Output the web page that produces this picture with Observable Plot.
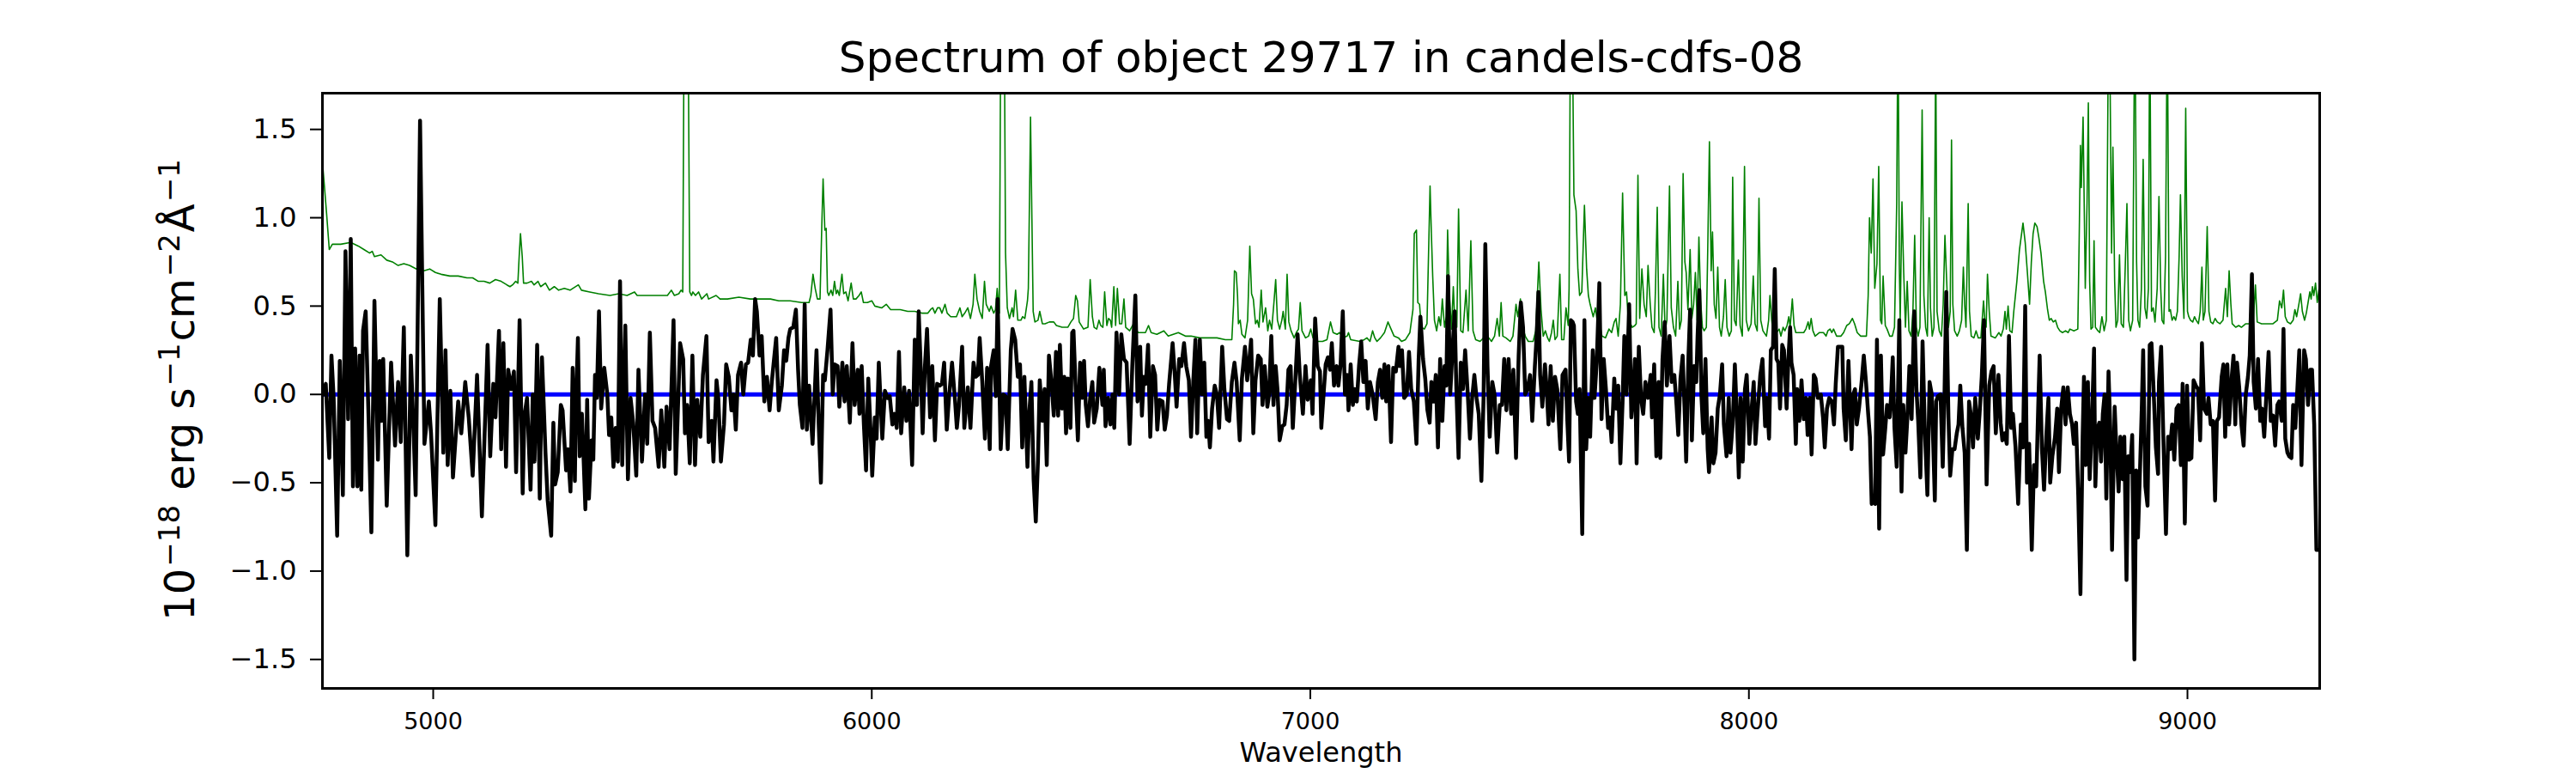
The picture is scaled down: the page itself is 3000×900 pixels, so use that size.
<!DOCTYPE html>
<html>
<head>
<meta charset="utf-8">
<script src="https://cdn.jsdelivr.net/npm/d3@7"></script>
<script src="https://cdn.jsdelivr.net/npm/@observablehq/plot@0.6"></script>
<style>
html, body { margin: 0; padding: 0; background: #ffffff; }
</style>
</head>
<body>
<div id="chart"></div>
<script>
const titleText = "Spectrum of object 29717 in candels-cdfs-08";
const xLabelText = "Wavelength";
const xTicks = [5000, 6000, 7000, 8000, 9000];
const yTicks = [-1.5, -1.0, -0.5, 0.0, 0.5, 1.0, 1.5];
const xDomain = [4747.4, 9301.5];
const yDomain = [-1.664, 1.705];
const zeroLevel = [0];

// black: object spectrum [wavelength, flux]
const spectrumPoints = [
[4750,0.00],[4755,0.06],[4763,-0.36],[4768,0.22],[4773,-0.02],[4781,-0.80],[4787,0.19],[4794,-0.57],[4800,0.81],[4806,-0.14],
[4812,0.88],[4817,-0.52],[4822,0.26],[4827,-0.52],[4832,0.22],[4836,-0.54],[4840,0.36],[4846,0.47],[4853,-0.17],[4859,-0.78],
[4866,0.53],[4874,-0.37],[4878,0.19],[4882,-0.15],[4886,0.20],[4894,-0.63],[4904,0.18],[4913,-0.29],[4920,0.07],[4926,-0.27],
[4933,0.38],[4941,-0.91],[4949,0.22],[4955,-0.19],[4960,-0.57],[4970,1.55],[4980,-0.28],[4990,-0.04],[4995,-0.22],[5005,-0.74],
[5015,0.54],[5023,-0.33],[5028,0.25],[5033,-0.40],[5039,0.02],[5045,-0.47],[5051,-0.25],[5057,-0.04],[5064,-0.22],[5073,0.07],
[5081,-0.13],[5090,-0.46],[5100,0.11],[5111,-0.69],[5124,0.28],[5130,-0.35],[5137,0.06],[5142,-0.13],[5150,0.36],[5155,-0.31],
[5160,0.29],[5166,-0.41],[5171,0.14],[5178,0.03],[5184,0.13],[5189,-0.44],[5197,0.42],[5204,-0.56],[5208,-0.12],[5214,-0.02],
[5222,-0.54],[5227,0.00],[5231,-0.38],[5237,0.28],[5243,-0.59],[5248,0.21],[5256,-0.33],[5261,-0.60],[5269,-0.80],[5274,-0.16],
[5278,-0.51],[5284,-0.44],[5291,-0.06],[5295,-0.09],[5303,-0.43],[5307,-0.31],[5313,-0.55],[5318,0.15],[5323,-0.49],
[5325,-0.11],[5330,0.32],[5334,-0.35],[5339,-0.11],[5343,-0.37],[5347,-0.65],[5351,-0.03],[5355,-0.59],[5361,-0.26],[5365,-0.37],
[5369,0.11],[5373,-0.02],[5378,0.47],[5383,-0.08],[5390,0.15],[5397,0.00],[5401,-0.23],[5406,-0.13],[5411,-0.41],[5416,-0.19],
[5421,-0.38],[5426,0.64],[5431,-0.40],[5438,0.39],[5444,-0.48],[5450,-0.02],[5456,-0.16],[5463,-0.46],[5468,0.14],[5476,-0.38],
[5483,0.00],[5488,-0.28],[5494,0.35],[5500,-0.15],[5506,-0.19],[5514,-0.41],[5520,-0.09],[5527,-0.41],[5532,-0.07],[5539,-0.31],
[5548,0.42],[5553,-0.45],[5563,0.29],[5570,0.20],[5574,-0.22],[5579,-0.06],[5585,-0.39],[5591,0.22],[5597,-0.40],[5602,-0.03],
[5609,-0.24],[5615,0.11],[5623,0.33],[5628,-0.27],[5635,-0.15],[5639,-0.38],[5646,0.08],[5650,-0.02],[5656,-0.38],[5663,-0.17],
[5668,0.17],[5674,0.10],[5680,-0.09],[5685,0.00],[5690,-0.20],[5695,0.11],[5702,0.18],[5707,0.00],[5713,0.17],[5718,0.18],
[5724,0.31],[5729,0.22],[5734,0.54],[5738,0.47],[5744,0.22],[5749,0.33],[5755,-0.04],[5761,0.10],[5767,-0.09],[5772,0.07],
[5776,0.17],[5782,0.32],[5788,-0.09],[5795,0.05],[5800,0.25],[5805,0.19],[5810,0.32],[5814,0.37],[5821,0.38],[5827,0.48],
[5832,0.14],[5836,-0.06],[5842,-0.19],[5847,0.51],[5852,-0.20],[5857,0.05],[5865,-0.28],[5874,0.25],[5879,-0.17],[5884,-0.50],
[5889,0.11],
[5893,0.08],[5899,0.25],[5906,0.48],[5911,0.00],[5915,0.17],[5922,0.16],[5926,-0.07],[5933,0.18],[5938,-0.04],[5943,0.16],
[5950,-0.16],[5956,0.29],[5961,-0.06],[5968,0.14],[5972,-0.11],[5977,0.16],[5982,-0.17],[5987,-0.43],[5992,0.09],[5997,-0.19],
[6001,-0.46],[6007,-0.13],[6011,-0.25],[6016,0.18],[6024,-0.25],[6030,0.02],[6036,-0.02],[6041,-0.01],[6047,-0.17],[6052,-0.11],
[6057,-0.19],[6062,0.24],[6067,-0.22],[6074,0.04],[6079,-0.15],[6085,0.02],[6092,-0.40],[6098,0.31],[6103,-0.06],[6107,0.47],
[6111,0.20],[6116,-0.22],[6121,0.15],[6126,0.37],[6133,-0.13],[6138,0.16],[6144,-0.26],[6149,0.06],[6155,0.05],[6160,0.06],
[6165,0.18],[6171,-0.20],[6176,-0.02],[6183,0.18],[6190,-0.04],[6194,-0.19],[6199,-0.06],[6206,0.27],[6211,-0.19],[6219,0.04],
[6225,-0.19],[6232,0.18],[6237,0.10],[6242,0.11],[6246,0.32],[6252,0.07],[6258,-0.25],[6263,0.15],[6269,-0.31],[6272,0.16],
[6278,0.25],[6283,-0.01],[6287,0.54],[6294,-0.31],[6300,0.00],[6305,-0.01],[6310,-0.31],[6317,0.25],[6321,0.37],[6327,0.31],
[6333,0.10],[6338,0.17],[6343,-0.30],[6348,0.10],[6355,-0.41],[6359,-0.11],[6364,0.07],[6369,-0.48],[6374,-0.72],[6379,-0.37],
[6383,0.08],[6389,-0.15],[6394,0.03],[6399,-0.40],[6404,0.22],[6410,0.06],[6415,-0.12],[6420,0.24],[6425,-0.12],[6429,0.28],
[6434,-0.08],[6439,0.10],[6443,-0.22],[6447,0.09],[6453,-0.19],[6457,0.35],
[6460,0.36],[6465,0.03],[6470,-0.26],[6475,0.18],[6480,-0.02],[6484,0.19],[6488,-0.06],[6493,-0.18],[6498,-0.02],[6503,0.07],
[6507,-0.16],[6513,-0.08],[6519,0.15],[6526,-0.06],[6529,0.14],[6533,-0.18],[6539,-0.02],[6544,-0.17],[6549,0.00],[6553,-0.19],
[6558,0.35],[6564,0.00],[6569,0.34],[6575,0.20],[6581,0.18],[6588,-0.28],[6594,0.16],[6601,0.56],[6606,-0.04],[6612,0.27],
[6616,-0.12],[6620,0.10],[6625,0.06],[6630,0.28],[6635,-0.24],[6641,0.16],[6646,0.11],[6651,-0.20],[6656,-0.03],[6663,-0.04],
[6668,-0.20],[6673,-0.12],[6678,0.06],[6686,0.29],[6691,0.11],[6695,-0.07],[6701,0.20],[6706,0.16],[6712,0.29],[6717,0.16],
[6723,0.08],[6728,-0.24],[6733,0.07],[6738,0.31],[6742,-0.22],[6748,0.31],[6753,0.00],[6758,0.18],[6763,-0.24],[6767,-0.15],
[6771,-0.30],[6776,-0.08],[6782,0.05],[6787,0.00],[6792,-0.19],[6799,0.27],[6804,0.03],[6810,-0.14],[6815,-0.15],[6821,0.07],
[6827,0.18],[6832,0.07],[6839,-0.26],[6844,0.09],[6851,0.27],[6856,0.08],[6861,0.20],[6865,0.31],[6870,-0.22],[6875,0.08],
[6881,0.22],[6887,0.20],[6891,-0.06],[6896,0.16],[6902,-0.07],[6906,0.00],[6911,0.33],[6916,-0.06],[6921,0.16],[6925,0.03],
[6930,-0.26],[6936,-0.18],[6941,-0.17],[6946,-0.06],[6950,0.14],[6955,0.16],[6960,-0.19],[6966,0.09],[6971,0.34],[6976,0.11],
[6983,-0.11],[6989,0.16],[6994,-0.03],[7001,0.08],[7005,-0.11],[7011,0.43],[7017,0.16],[7022,0.13],[7025,-0.19],
[7031,0.03],[7035,0.17],[7040,0.21],[7045,0.14],[7049,0.29],[7054,0.05],[7060,0.16],[7064,0.05],[7069,0.17],[7074,0.47],
[7079,0.00],[7084,0.11],[7087,-0.09],[7092,0.17],[7097,-0.06],[7101,0.03],[7106,-0.04],[7111,0.16],[7116,0.30],[7121,0.07],
[7126,0.19],[7131,-0.08],[7136,0.07],[7142,0.00],[7149,-0.14],[7154,0.07],[7159,0.14],[7164,-0.02],[7169,0.17],[7173,-0.04],
[7178,0.16],[7184,-0.27],[7189,0.15],[7195,0.13],[7201,0.27],[7204,0.16],[7209,0.25],[7214,-0.02],[7220,0.00],[7225,0.24],
[7230,0.03],[7236,-0.04],[7242,-0.28],[7247,0.20],[7251,0.44],[7257,0.20],[7262,0.09],[7267,-0.09],[7272,-0.16],[7276,0.07],
[7281,-0.04],[7286,0.11],[7291,-0.30],[7296,0.20],[7301,-0.15],[7306,0.16],[7310,0.05],[7314,0.67],[7319,0.00],[7325,0.29],
[7329,0.47],[7333,0.03],[7338,-0.36],[7343,0.18],[7348,0.03],[7353,0.25],[7359,0.00],[7364,-0.25],[7369,-0.02],[7374,0.11],
[7379,-0.02],[7384,-0.11],[7390,-0.49],[7395,-0.02],[7399,0.85],[7404,0.16],[7409,-0.24],[7415,0.07],[7420,0.00],[7426,-0.33],
[7432,-0.06],[7437,-0.06],[7442,0.20],[7447,-0.09],[7452,0.20],[7458,-0.11],[7463,0.14],[7469,-0.36],[7475,0.22],[7480,0.52],
[7485,0.38],[7490,0.00],[7495,0.03],[7501,0.11],[7506,-0.15],[7512,0.16],[7516,0.33],[7520,0.58],[7524,0.11],[7529,-0.07],
[7535,0.17],[7539,0.03],[7543,-0.17],[7548,0.16],[7553,-0.15],[7558,0.10],[7563,0.03],[7570,-0.31],[7575,0.11],[7582,0.14],
[7586,-0.15],[7590,-0.38],[7594,0.42],
[7598,0.41],[7601,0.39],[7606,-0.04],[7610,-0.11],[7614,0.03],[7620,-0.79],[7625,0.42],[7629,-0.31],[7634,-0.02],[7638,-0.24],
[7644,0.25],[7648,-0.02],[7653,0.18],[7659,0.63],[7664,-0.14],[7669,0.20],[7674,0.03],[7679,-0.19],[7683,-0.13],[7687,-0.27],
[7693,0.09],[7697,-0.08],[7702,0.05],[7707,-0.39],[7712,-0.04],[7716,0.33],[7721,0.00],[7727,0.51],[7732,-0.13],[7736,0.00],
[7740,0.20],[7744,-0.39],[7749,0.27],[7754,-0.02],[7759,-0.11],[7764,0.07],[7770,-0.02],[7776,0.11],[7779,-0.13],[7784,0.17],
[7789,-0.35],[7794,0.07],[7798,-0.36],[7803,0.20],[7808,0.41],[7813,0.05],[7819,0.33],[7824,0.07],[7830,0.11],[7835,-0.06],
[7839,-0.23],[7844,0.09],[7849,0.22],[7854,-0.13],[7857,-0.38],[7862,0.20],[7866,0.48],[7870,-0.26],[7875,0.16],[7880,0.07],
[7883,0.33],[7887,0.59],[7892,-0.02],[7896,-0.22],[7901,0.20],[7906,-0.31],[7909,-0.44],[7915,-0.13],[7919,-0.39],[7924,-0.33],
[7929,-0.08],[7934,0.00],[7939,0.17],[7943,-0.17],[7949,-0.35],[7954,-0.02],[7958,-0.33],[7963,-0.17],[7968,0.17],[7973,-0.15],
[7977,-0.47],[7981,-0.02],[7986,-0.38],[7991,0.03],[7995,0.11],[8001,-0.28],[8006,-0.09],[8011,0.07],[8015,-0.28],[8020,-0.09],
[8026,0.11],[8031,0.20],[8037,-0.18],[8041,-0.02],[8046,-0.25],[8050,0.25],[8055,0.27],[8059,0.71],[8063,0.20],[8067,0.18],
[8071,-0.08],[8076,0.28],[8080,0.25],[8086,-0.08],[8090,0.20],[8094,0.38],[8097,0.18],[8102,0.11],[8107,-0.28],[8110,0.03],
[8115,-0.15],[8120,0.08],[8125,-0.14],[8130,-0.02],[8134,-0.23],[8139,-0.02],[8143,-0.34],[8148,0.11],[8152,0.09],[8157,-0.02],
[8162,-0.02],
[8164,0.00],[8169,-0.13],[8173,-0.30],[8178,-0.08],[8183,-0.02],[8189,-0.04],[8194,-0.17],[8198,0.06],[8203,0.27],[8208,0.27],
[8213,0.27],[8216,-0.08],[8221,-0.26],[8227,0.19],[8230,-0.02],[8234,-0.31],[8238,0.00],[8242,0.03],[8246,-0.17],[8251,-0.08],
[8257,0.07],[8262,0.22],[8267,0.07],[8272,-0.11],[8276,-0.24],[8280,-0.62],[8285,-0.59],[8288,-0.62],[8292,0.31],[8297,-0.76],
[8301,0.22],[8306,-0.34],[8311,-0.19],[8315,-0.06],[8321,-0.13],[8324,-0.02],[8328,0.21],[8332,-0.19],[8337,-0.41],[8343,0.42],
[8348,-0.55],[8352,-0.06],[8357,-0.33],[8361,-0.15],[8366,0.16],[8371,-0.14],[8377,0.47],[8382,0.03],[8386,-0.15],[8391,-0.47],
[8396,0.30],[8401,-0.19],[8407,-0.57],[8412,0.07],[8417,0.00],[8424,-0.60],[8427,-0.04],[8431,-0.01],[8437,0.00],[8442,-0.41],
[8446,0.00],[8450,0.58],[8455,-0.13],[8459,-0.46],[8464,-0.31],[8469,-0.31],[8474,-0.22],[8478,-0.17],[8482,0.05],[8487,-0.19],
[8492,-0.33],[8497,-0.88],[8502,-0.04],[8507,-0.13],[8511,-0.30],[8516,-0.02],[8522,-0.25],[8526,-0.11],[8531,0.10],[8536,0.42],
[8542,-0.51],[8548,0.05],[8553,0.13],[8558,0.16],[8563,-0.22],[8569,0.11],[8574,-0.16],[8578,-0.26],[8583,-0.22],[8588,-0.28],
[8593,0.33],[8598,-0.19],[8602,-0.11],[8608,-0.30],[8614,-0.62],[8620,-0.17],[8625,-0.30],[8630,0.50],[8634,-0.50],[8639,-0.28],
[8645,-0.88],[8650,-0.40],[8655,-0.52],[8660,-0.04],[8663,0.22],[8668,-0.30],[8673,-0.54],[8678,-0.24],[8683,-0.02],[8687,-0.50],
[8692,-0.35],[8698,-0.24],[8703,-0.08],[8707,-0.44],[8712,-0.08],[8717,0.04],[8722,-0.17],[8727,0.04],
[8732,-0.11],[8737,-0.17],[8741,-0.28],[8746,-0.16],[8751,-0.57],[8756,-1.13],[8761,-0.24],[8764,0.10],[8768,-0.40],[8773,0.07],
[8777,-0.48],[8782,-0.17],[8787,0.26],[8790,-0.52],[8794,-0.20],[8799,-0.16],[8803,-0.38],[8807,-0.11],[8811,0.00],[8815,-0.59],
[8820,0.13],[8824,-0.19],[8828,-0.88],[8834,-0.07],[8838,-0.31],[8843,-0.55],[8847,-0.24],[8852,-0.48],[8856,-0.24],[8861,-1.05],
[8865,-0.35],[8869,-0.44],[8874,-0.23],[8879,-1.50],[8883,-0.43],[8887,-0.81],[8892,-0.41],[8896,-0.06],[8899,0.25],[8904,-0.52],
[8909,-0.63],[8914,0.28],[8918,0.29],[8922,0.07],[8928,-0.30],[8933,-0.45],[8935,0.07],[8940,0.27],[8945,-0.24],[8951,-0.79],
[8956,-0.24],[8960,-0.31],[8965,-0.17],[8970,-0.37],[8975,-0.08],[8980,-0.06],[8985,-0.40],[8989,0.06],[8994,-0.73],[8999,0.05],
[9004,-0.37],[9009,-0.36],[9014,0.08],[9019,0.05],[9024,0.03],[9029,-0.26],[9033,0.29],[9038,-0.08],[9044,-0.11],[9048,-0.02],
[9053,-0.17],[9058,-0.15],[9063,-0.60],[9067,-0.15],[9072,-0.13],[9078,0.10],[9082,0.17],[9086,-0.24],[9091,0.17],[9095,-0.17],
[9101,0.10],[9105,0.22],[9109,-0.17],[9113,0.18],[9118,0.04],[9123,-0.17],[9128,-0.29],[9133,0.00],[9138,0.10],[9142,0.22],
[9147,0.68],[9151,0.07],[9156,-0.08],[9161,0.20],[9166,-0.15],[9170,-0.08],[9175,-0.24],[9181,0.05],[9185,0.24],[9190,-0.15],
[9195,-0.12],[9200,-0.29],[9205,-0.06],[9209,-0.04],[9215,-0.15],[9219,0.37],[9223,-0.25],[9228,-0.33],[9232,-0.35],[9237,-0.36],
[9241,-0.06],[9246,-0.19],[9250,0.00],[9255,0.25],[9260,-0.40],[9266,0.25],[9270,0.20],[9275,-0.06],[9280,0.14],[9284,0.14],
[9289,-0.17],[9294,-0.88],[9300,-0.88]
];

// green: sky / noise spectrum [wavelength, flux]
const skyPoints = [
[4748,1.30],[4757,1.02],[4763,0.82],[4770,0.85],[4789,0.85],[4812,0.86],[4829,0.84],[4842,0.82],[4855,0.80],[4861,0.81],
[4866,0.78],[4881,0.79],[4894,0.76],[4907,0.75],[4920,0.73],[4933,0.74],[4946,0.73],[4962,0.71],[4979,0.70],[4992,0.71],
[5005,0.69],[5018,0.68],[5038,0.67],[5057,0.67],[5077,0.66],[5090,0.66],[5103,0.64],[5116,0.64],[5129,0.63],[5142,0.65],
[5155,0.64],[5168,0.62],[5175,0.61],[5181,0.62],[5188,0.64],[5193,0.63],[5196,0.78],[5199,0.91],[5203,0.78],[5206,0.63],
[5214,0.63],[5224,0.64],[5230,0.62],[5239,0.64],[5245,0.61],[5256,0.63],[5265,0.59],[5276,0.61],[5286,0.59],[5299,0.60],
[5312,0.59],[5331,0.62],[5338,0.59],[5357,0.58],[5377,0.57],[5403,0.56],[5423,0.57],[5442,0.56],[5459,0.58],[5465,0.56],
[5488,0.56],[5514,0.56],[5534,0.56],[5543,0.59],[5550,0.56],[5560,0.57],[5565,0.59],[5569,0.58],[5573,2.60],[5580,2.60],
[5585,0.58],[5589,0.56],[5592,0.58],[5598,0.56],[5605,0.58],[5612,0.54],[5624,0.57],[5628,0.54],[5645,0.56],[5654,0.54],
[5671,0.54],[5697,0.55],[5723,0.54],[5749,0.54],[5769,0.54],[5788,0.53],[5814,0.53],[5840,0.52],[5857,0.52],[5861,0.56],
[5866,0.68],[5871,0.60],[5876,0.54],[5882,0.54],[5886,0.95],[5889,1.22],[5893,0.93],[5896,0.94],[5899,0.58],[5902,0.56],
[5907,0.59],[5911,0.56],[5915,0.64],[5919,0.57],[5922,0.59],[5926,0.56],[5932,0.68],[5936,0.57],[5941,0.58],[5946,0.53],
[5953,0.63],[5958,0.54],[5964,0.54],[5971,0.56],[5976,0.58],[5981,0.52],[5990,0.52],[6000,0.53],[6007,0.50],[6023,0.49],
[6033,0.51],[6043,0.48],[6065,0.48],[6082,0.47],[6098,0.47],[6114,0.46],[6128,0.46],[6134,0.48],[6139,0.49],[6144,0.46],
[6150,0.49],[6155,0.49],[6160,0.46],[6167,0.51],[6172,0.46],[6180,0.44],[6193,0.44],[6201,0.49],[6206,0.44],[6212,0.46],
[6219,0.49],[6225,0.43],[6231,0.51],[6235,0.68],[6240,0.54],[6246,0.47],[6252,0.43],[6257,0.64],[6261,0.51],[6268,0.47],
[6272,0.50],[6278,0.46],[6282,0.48],[6286,0.60],[6291,0.46],[6295,2.60],[6302,2.20],[6305,0.80],[6309,0.49],[6314,0.43],
[6320,0.49],[6323,0.44],[6328,0.59],[6333,0.42],[6340,0.42],[6344,0.44],[6349,0.43],[6355,0.53],[6357,0.60],[6362,1.57],
[6368,0.47],[6372,0.41],[6379,0.42],[6383,0.47],[6389,0.40],[6395,0.40],[6405,0.41],[6415,0.41],[6421,0.39],[6434,0.38],
[6447,0.38],[6454,0.41],[6460,0.43],[6465,0.56],[6469,0.53],[6473,0.41],[6483,0.37],[6493,0.38],[6498,0.65],[6503,0.44],
[6507,0.38],[6513,0.37],[6518,0.42],[6522,0.39],[6527,0.38],[6531,0.58],[6536,0.39],[6540,0.43],[6544,0.42],[6547,0.38],
[6552,0.61],[6556,0.39],[6560,0.60],[6565,0.40],[6570,0.40],[6575,0.54],[6579,0.38],[6588,0.36],[6597,0.40],[6607,0.35],
[6624,0.35],[6631,0.39],[6637,0.35],[6650,0.34],[6666,0.36],[6676,0.33],[6699,0.35],[6715,0.33],[6728,0.33],[6748,0.32],
[6767,0.32],[6787,0.32],[6806,0.31],[6821,0.31],[6825,0.51],[6827,0.70],[6831,0.69],[6834,0.56],[6836,0.40],[6840,0.42],
[6844,0.34],[6851,0.32],[6857,0.42],[6862,0.84],[6866,0.57],[6870,0.54],[6875,0.40],[6879,0.42],[6883,0.38],[6888,0.59],
[6892,0.41],[6898,0.49],[6903,0.36],[6907,0.42],[6912,0.37],[6917,0.52],[6921,0.65],[6925,0.42],[6930,0.37],[6935,0.42],
[6938,0.47],[6943,0.37],[6947,0.68],[6951,0.41],[6956,0.36],[6963,0.32],[6968,0.35],[6973,0.37],[6977,0.52],[6981,0.36],
[6989,0.32],[6996,0.33],[7001,0.37],[7006,0.32],[7015,0.30],[7028,0.30],[7038,0.31],[7046,0.41],[7052,0.35],[7061,0.34],
[7067,0.35],[7074,0.32],[7084,0.33],[7087,0.35],[7092,0.31],[7113,0.30],[7123,0.31],[7129,0.32],[7136,0.30],[7142,0.36],
[7147,0.32],[7152,0.30],[7160,0.32],[7169,0.35],[7177,0.41],[7184,0.37],[7191,0.33],[7201,0.32],[7208,0.30],[7217,0.31],
[7227,0.35],[7234,0.48],[7237,0.91],[7242,0.93],[7245,0.52],[7249,0.51],[7253,0.38],[7260,0.37],[7266,0.40],[7273,1.18],
[7276,0.91],[7279,0.67],[7283,0.42],[7288,0.36],[7293,0.44],[7297,0.39],[7301,0.54],[7306,0.38],[7310,0.44],[7313,0.93],
[7317,0.56],[7322,0.37],[7326,0.61],[7330,0.38],[7334,0.38],[7338,1.05],[7343,0.36],[7348,0.35],[7355,0.59],[7360,0.36],
[7366,0.87],[7371,0.36],[7377,0.31],[7387,0.30],[7399,0.33],[7407,0.32],[7413,0.30],[7420,0.33],[7426,0.43],[7431,0.33],
[7435,0.52],[7439,0.33],[7446,0.32],[7456,0.30],[7462,0.33],[7469,0.51],[7473,0.44],[7479,0.54],[7484,0.38],[7490,0.33],
[7497,0.30],[7508,0.30],[7514,0.36],[7521,0.75],[7526,0.48],[7531,0.33],[7536,0.36],[7541,0.32],[7545,0.30],[7550,0.35],
[7554,0.42],[7558,0.31],[7563,0.33],[7569,0.68],[7573,0.31],[7578,0.31],[7583,0.49],[7588,0.39],[7590,0.60],[7594,2.60],
[7597,2.20],[7601,1.13],[7606,1.04],[7610,0.71],[7614,0.56],[7619,0.58],[7625,1.07],[7630,0.71],[7634,0.56],[7638,0.51],
[7645,0.44],[7650,0.49],[7655,0.40],[7660,0.40],[7665,0.33],[7673,0.32],[7681,0.37],[7687,0.35],[7693,0.41],[7697,0.43],
[7702,0.33],[7707,0.51],[7712,1.14],[7717,0.56],[7721,0.58],[7725,0.42],[7730,0.40],[7734,0.38],[7740,0.39],[7743,0.40],
[7747,1.24],[7751,0.43],[7756,0.71],[7761,0.51],[7766,0.44],[7770,0.73],[7775,0.51],[7779,0.38],[7784,0.35],[7787,0.60],
[7791,1.06],[7795,0.38],[7800,0.33],[7805,0.68],[7809,0.36],[7813,0.42],[7819,1.18],[7823,0.49],[7828,0.38],[7833,0.33],
[7838,0.64],[7842,0.37],[7846,0.42],[7850,1.25],[7854,0.75],[7857,0.69],[7861,0.48],[7866,0.82],[7870,0.43],[7874,0.51],
[7878,0.69],[7882,0.42],[7886,0.89],[7890,0.53],[7894,0.38],[7898,0.36],[7903,0.38],[7906,0.80],[7910,1.43],[7914,0.70],
[7917,0.92],[7921,0.51],[7925,0.43],[7929,0.72],[7933,0.38],[7937,0.33],[7942,0.44],[7946,0.65],[7950,0.38],[7955,0.33],
[7960,0.36],[7963,1.23],[7967,0.42],[7971,0.39],[7976,0.76],[7980,0.39],[7985,0.33],[7990,1.29],[7994,0.42],[7999,0.36],
[8005,0.40],[8010,0.67],[8014,0.40],[8019,0.36],[8023,1.11],[8027,0.42],[8032,0.36],[8040,0.33],[8045,0.42],[8048,0.56],
[8052,0.42],[8056,0.33],[8063,0.35],[8069,0.37],[8073,0.33],[8078,0.38],[8082,0.36],[8087,0.39],[8091,0.44],[8094,0.38],
[8099,0.54],[8103,0.39],[8107,0.35],[8115,0.35],[8125,0.35],[8130,0.37],[8135,0.41],[8138,0.37],[8142,0.43],[8146,0.36],
[8151,0.33],[8161,0.35],[8170,0.35],[8176,0.33],[8180,0.36],[8185,0.37],[8189,0.35],[8193,0.37],[8200,0.33],[8210,0.33],
[8216,0.35],[8223,0.39],[8229,0.40],[8236,0.43],[8241,0.40],[8247,0.35],[8255,0.33],[8268,0.33],[8272,0.56],[8275,1.00],
[8279,0.80],[8283,1.22],[8287,0.60],[8292,0.74],[8296,1.29],[8300,0.42],[8303,0.40],[8306,0.67],[8311,0.39],[8315,0.37],
[8321,0.33],[8327,0.33],[8332,0.38],[8337,1.08],[8340,2.20],[8343,0.73],[8345,0.42],[8349,1.09],[8353,0.69],[8357,0.38],
[8361,0.64],[8365,0.36],[8370,0.33],[8374,0.47],[8378,0.90],[8382,0.38],[8386,0.33],[8390,0.38],[8395,1.61],[8399,0.56],
[8403,0.38],[8407,0.33],[8411,1.00],[8414,0.49],[8418,0.33],[8422,0.38],[8426,2.00],[8429,0.47],[8434,0.36],[8439,0.33],
[8443,0.51],[8447,0.90],[8451,0.64],[8455,0.38],[8459,0.47],[8462,1.44],[8465,0.51],[8469,0.36],[8475,0.33],[8480,0.36],
[8485,0.42],[8489,0.72],[8492,0.51],[8495,0.38],[8500,1.08],[8503,0.47],[8507,0.33],[8513,0.32],[8518,0.36],[8523,0.32],
[8529,0.32],[8535,0.53],[8538,0.42],[8541,0.38],[8544,0.68],[8548,0.47],[8552,0.33],[8562,0.32],[8570,0.35],[8575,0.33],
[8580,0.37],[8584,0.47],[8587,0.37],[8591,0.50],[8595,0.36],[8600,0.35],[8604,0.47],[8611,0.64],[8617,0.82],[8625,0.97],
[8630,0.86],[8635,0.69],[8640,0.51],[8644,0.75],[8648,0.91],[8652,0.97],[8657,0.95],[8661,0.89],[8666,0.80],[8672,0.64],
[8676,0.58],[8681,0.48],[8685,0.42],[8689,0.43],[8694,0.41],[8699,0.42],[8704,0.38],[8709,0.36],[8715,0.35],[8722,0.36],
[8728,0.35],[8732,0.37],[8741,0.36],[8750,0.37],[8753,0.86],[8756,1.41],[8758,1.17],[8762,1.57],[8767,0.60],[8771,1.08],
[8774,1.65],[8777,0.64],[8780,0.37],[8784,0.38],[8787,0.87],[8790,0.38],[8796,0.36],[8800,0.35],[8805,0.44],[8810,0.36],
[8815,0.42],[8821,2.50],[8827,0.80],[8830,1.40],[8834,0.64],[8837,0.38],[8841,0.42],[8845,0.79],[8849,0.40],[8854,0.38],
[8858,0.71],[8862,1.08],[8866,0.42],[8870,0.36],[8875,0.42],[8880,2.30],[8884,0.75],[8887,0.42],[8891,0.38],[8895,0.60],
[8899,1.33],[8903,0.49],[8907,0.43],[8911,0.60],[8914,2.20],[8918,0.47],[8922,0.49],[8926,0.41],[8931,0.60],[8935,1.12],
[8939,0.60],[8942,0.42],[8946,0.40],[8950,0.78],[8954,2.20],[8958,0.47],[8961,0.48],[8965,0.42],[8969,0.44],[8973,0.42],
[8977,0.47],[8981,0.78],[8984,1.13],[8988,0.67],[8992,0.43],[8996,1.62],[9000,0.47],[9003,0.44],[9007,0.42],[9012,0.41],
[9016,0.44],[9020,0.42],[9025,0.40],[9029,0.47],[9033,0.72],[9036,0.42],[9040,0.47],[9045,0.95],[9049,0.47],[9053,0.41],
[9058,0.40],[9063,0.43],[9068,0.41],[9074,0.40],[9081,0.42],[9087,0.60],[9091,0.44],[9095,0.70],[9099,0.51],[9102,0.40],
[9110,0.38],[9117,0.39],[9123,0.38],[9133,0.40],[9143,0.40],[9150,0.41],[9155,0.62],[9159,0.41],[9169,0.40],[9182,0.40],
[9195,0.40],[9205,0.42],[9210,0.53],[9215,0.49],[9219,0.59],[9223,0.44],[9228,0.41],[9235,0.40],[9241,0.42],[9245,0.48],
[9249,0.44],[9254,0.51],[9258,0.57],[9262,0.47],[9267,0.42],[9271,0.46],[9275,0.52],[9279,0.58],[9282,0.54],[9285,0.61],
[9288,0.56],[9292,0.63],[9296,0.52],[9300,0.60]
];

const spectrum = spectrumPoints.map(([w, f]) => ({w, f}));
const sky = skyPoints.map(([w, f]) => ({w, f}));

const chart = Plot.plot({
  width: 3000,
  height: 900,
  marginLeft: 375,
  marginRight: 299,
  marginTop: 108,
  marginBottom: 99,
  x: {domain: xDomain},
  y: {domain: yDomain},
  style: {fontFamily: "DejaVu Sans", background: "#ffffff", color: "#000000"},
  marks: [
    Plot.line(sky, {x: "w", y: "f", stroke: "#008000", strokeWidth: 1.6, clip: true}),
    Plot.ruleY(zeroLevel, {stroke: "#0000ff", strokeWidth: 5}),
    Plot.line(spectrum, {x: "w", y: "f", stroke: "#000000", strokeWidth: 4.5, clip: true}),
    Plot.frame({stroke: "#000000", strokeWidth: 3}),
    Plot.axisY({ticks: yTicks, tickFormat: d3.format(".1f"), tickSize: 14, tickPadding: 16, fontSize: 32, strokeWidth: 2, label: null}),
    Plot.axisX({ticks: xTicks, tickFormat: d3.format("d"), tickSize: 13, tickPadding: 15, fontSize: 27, strokeWidth: 2, label: null}),
    Plot.text([titleText], {frameAnchor: "top", lineAnchor: "bottom", dy: -25, fontSize: 50, fill: "#000000"}),
    Plot.text([xLabelText], {frameAnchor: "bottom", lineAnchor: "bottom", dy: 85, fontSize: 32, fill: "#000000"})
  ]
});

document.getElementById("chart").appendChild(chart);

// y-axis label with superscripts
const yl = d3.select(chart).append("text")
  .attr("transform", "translate(226,454) rotate(-90)")
  .attr("text-anchor", "middle")
  .attr("font-family", "DejaVu Sans")
  .attr("font-size", 48)
  .attr("fill", "#000000");
const yLabelParts = [
  ["10", false], ["−18", true], [" erg s", false], ["−1", true],
  ["cm", false], ["−2", true], ["Å", false], ["−1", true]
];
let raised = false;
for (const [txt, sup] of yLabelParts) {
  const ts = yl.append("tspan").text(txt);
  if (sup && !raised) { ts.attr("font-size", 34).attr("dy", -17).attr("dx", 2); raised = true; }
  else if (sup) { ts.attr("font-size", 34); }
  else if (!sup && raised) { ts.attr("dy", 17).attr("dx", 2); raised = false; }
}
</script>
</body>
</html>
